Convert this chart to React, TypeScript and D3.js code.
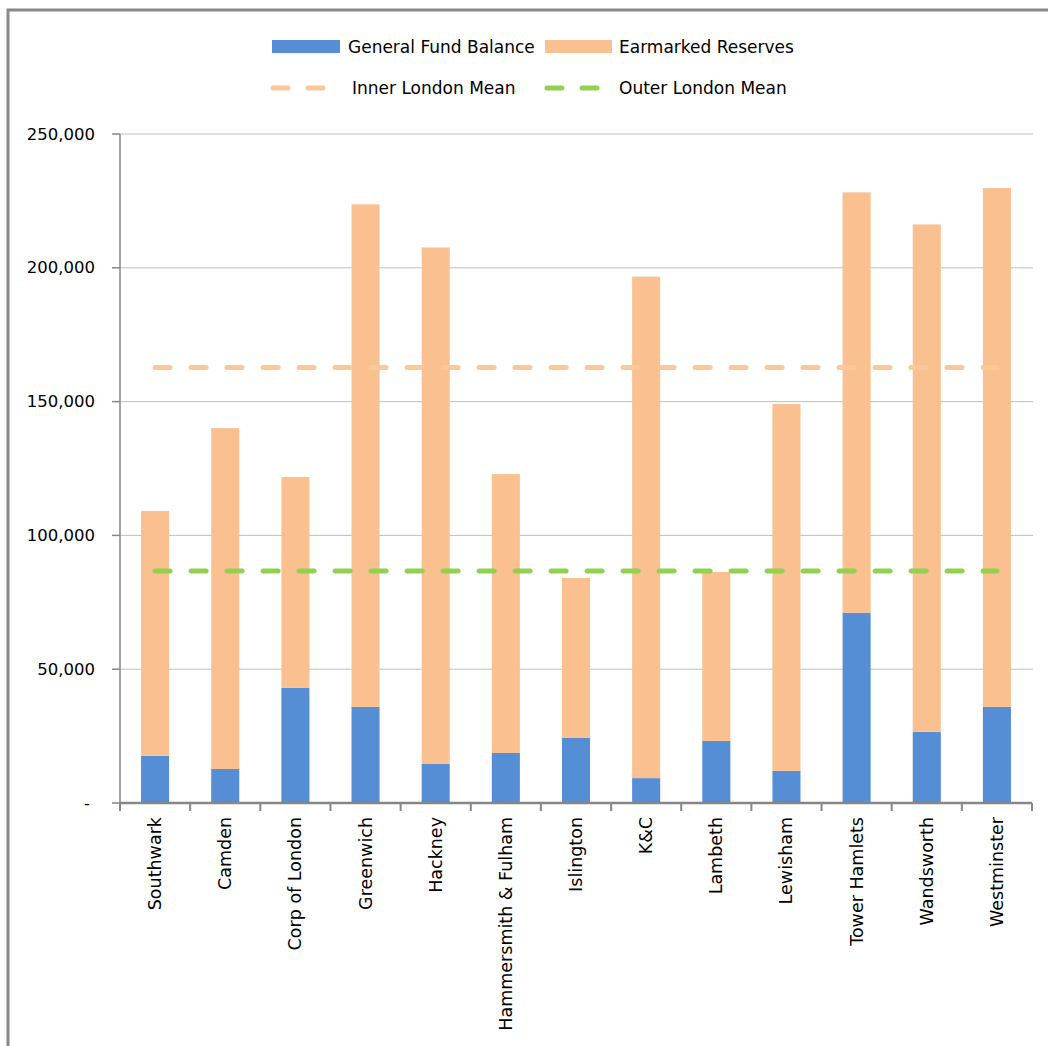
import * as d3 from "d3";

/* ------------------------------------------------------------------ */
/*  Data (£000s)                                                       */
/* ------------------------------------------------------------------ */

const BOROUGHS = [
  "Southwark",
  "Camden",
  "Corp of London",
  "Greenwich",
  "Hackney",
  "Hammersmith & Fulham",
  "Islington",
  "K&C",
  "Lambeth",
  "Lewisham",
  "Tower Hamlets",
  "Wandsworth",
  "Westminster",
];

const GENERAL_FUND = [
  17600, 12700, 43000, 35900, 14600, 18700, 24300, 9300, 23200, 12000, 71100,
  26600, 35900,
];

const EARMARKED = [
  91500, 127400, 78800, 187800, 193000, 104200, 59800, 187400, 63100, 137100,
  157100, 189600, 193900,
];

const INNER_MEAN = 162700;
const OUTER_MEAN = 86700;

const Y_TICKS = [0, 50000, 100000, 150000, 200000, 250000];

/* ------------------------------------------------------------------ */
/*  Theme                                                              */
/* ------------------------------------------------------------------ */

const BLUE = "#558ed5";
const ORANGE = "#fac090";
const ORANGE_LINE = "#fcc898";
const GREEN = "#92d050";
const AXIS = "#868686";
const GRID = "#bfbfbf";
const FONT = "'DejaVu Sans', sans-serif";

const W = 1048;
const H = 1046;
const margin = { top: 134, right: 16, bottom: 243, left: 120 };

export default function App() {
  const x = d3
    .scaleBand<string>()
    .domain(BOROUGHS)
    .range([margin.left, W - margin.right])
    .paddingInner(0.6)
    .paddingOuter(0.3);

  const step = x.step();
  const plotLeft = margin.left;
  const plotRight = W - margin.right;

  const y = d3
    .scaleLinear()
    .domain([0, 250000])
    .range([H - margin.bottom, margin.top]);

  const fmt = d3.format(",");
  const center = (b: string) => (x(b) ?? 0) + x.bandwidth() / 2;

  const meanLine = d3
    .line<number>()
    .x((_, i) => center(BOROUGHS[i === 0 ? 0 : BOROUGHS.length - 1]))
    .y((d) => y(d));

  return (
    <div style={{ position: "absolute", left: 0, top: 0 }}>
      <svg width={W} height={H} style={{ display: "block", background: "#fff" }}>
        {/* frame */}
        <rect
          x={8}
          y={10}
          width={W + 20}
          height={H + 20}
          fill="none"
          stroke="#898989"
          strokeWidth={3}
        />

        {/* legend */}
        <g fontFamily={FONT} fontSize={17} fill="#000">
          <rect x={272} y={40} width={68} height={13} fill={BLUE} />
          <text x={348} y={47} dominantBaseline="central">
            General Fund Balance
          </text>
          <rect x={545} y={40} width={67} height={13} fill={ORANGE} />
          <text x={619} y={47} dominantBaseline="central">
            Earmarked Reserves
          </text>
          <line
            x1={273}
            x2={326}
            y1={88}
            y2={88}
            stroke={ORANGE_LINE}
            strokeWidth={5}
            strokeLinecap="round"
            strokeDasharray="15 20"
          />
          <text x={352} y={88} dominantBaseline="central">
            Inner London Mean
          </text>
          <line
            x1={547}
            x2={600}
            y1={88}
            y2={88}
            stroke={GREEN}
            strokeWidth={5}
            strokeLinecap="round"
            strokeDasharray="15 20"
          />
          <text x={619} y={88} dominantBaseline="central">
            Outer London Mean
          </text>
        </g>

        {/* gridlines */}
        {Y_TICKS.filter((t) => t > 0).map((t) => (
          <line
            key={t}
            x1={plotLeft}
            x2={plotRight + 1}
            y1={y(t)}
            y2={y(t)}
            stroke={GRID}
            strokeWidth={1}
          />
        ))}

        {/* stacked bars */}
        {BOROUGHS.map((b, i) => (
          <g key={b}>
            <rect
              x={x(b)}
              width={x.bandwidth()}
              y={y(GENERAL_FUND[i])}
              height={y(0) - y(GENERAL_FUND[i])}
              fill={BLUE}
            />
            <rect
              x={x(b)}
              width={x.bandwidth()}
              y={y(GENERAL_FUND[i] + EARMARKED[i])}
              height={y(GENERAL_FUND[i]) - y(GENERAL_FUND[i] + EARMARKED[i])}
              fill={ORANGE}
            />
          </g>
        ))}

        {/* mean lines */}
        <path
          d={meanLine([INNER_MEAN, INNER_MEAN]) ?? ""}
          stroke={ORANGE_LINE}
          strokeWidth={5}
          strokeLinecap="round"
          strokeDasharray="15 21"
          fill="none"
        />
        <path
          d={meanLine([OUTER_MEAN, OUTER_MEAN]) ?? ""}
          stroke={GREEN}
          strokeWidth={5}
          strokeLinecap="round"
          strokeDasharray="15 21"
          fill="none"
        />

        {/* y axis */}
        <line
          x1={plotLeft}
          x2={plotLeft}
          y1={y(250000)}
          y2={y(0)}
          stroke={AXIS}
          strokeWidth={1.5}
        />
        {Y_TICKS.map((t) => (
          <g key={t}>
            <line
              x1={plotLeft - 8}
              x2={plotLeft}
              y1={y(t)}
              y2={y(t)}
              stroke={AXIS}
              strokeWidth={1.5}
            />
            <text
              x={t === 0 ? 90 : 95}
              y={y(t)}
              textAnchor="end"
              dominantBaseline="central"
              fontFamily={FONT}
              fontSize={16.5}
              fill="#000"
            >
              {t === 0 ? "-" : fmt(t)}
            </text>
          </g>
        ))}

        {/* x axis */}
        <line
          x1={plotLeft}
          x2={plotRight}
          y1={y(0)}
          y2={y(0)}
          stroke={AXIS}
          strokeWidth={2.5}
        />
        {d3.range(BOROUGHS.length + 1).map((i) => (
          <line
            key={i}
            x1={plotLeft + i * step}
            x2={plotLeft + i * step}
            y1={y(0)}
            y2={y(0) + 8}
            stroke={AXIS}
            strokeWidth={2}
          />
        ))}
        {BOROUGHS.map((b) => (
          <text
            key={b}
            transform={`translate(${center(b)},${y(0) + 14}) rotate(-90)`}
            textAnchor="end"
            dominantBaseline="central"
            fontFamily={FONT}
            fontSize={17.5}
            fill="#000"
          >
            {b}
          </text>
        ))}
      </svg>
    </div>
  );
}
